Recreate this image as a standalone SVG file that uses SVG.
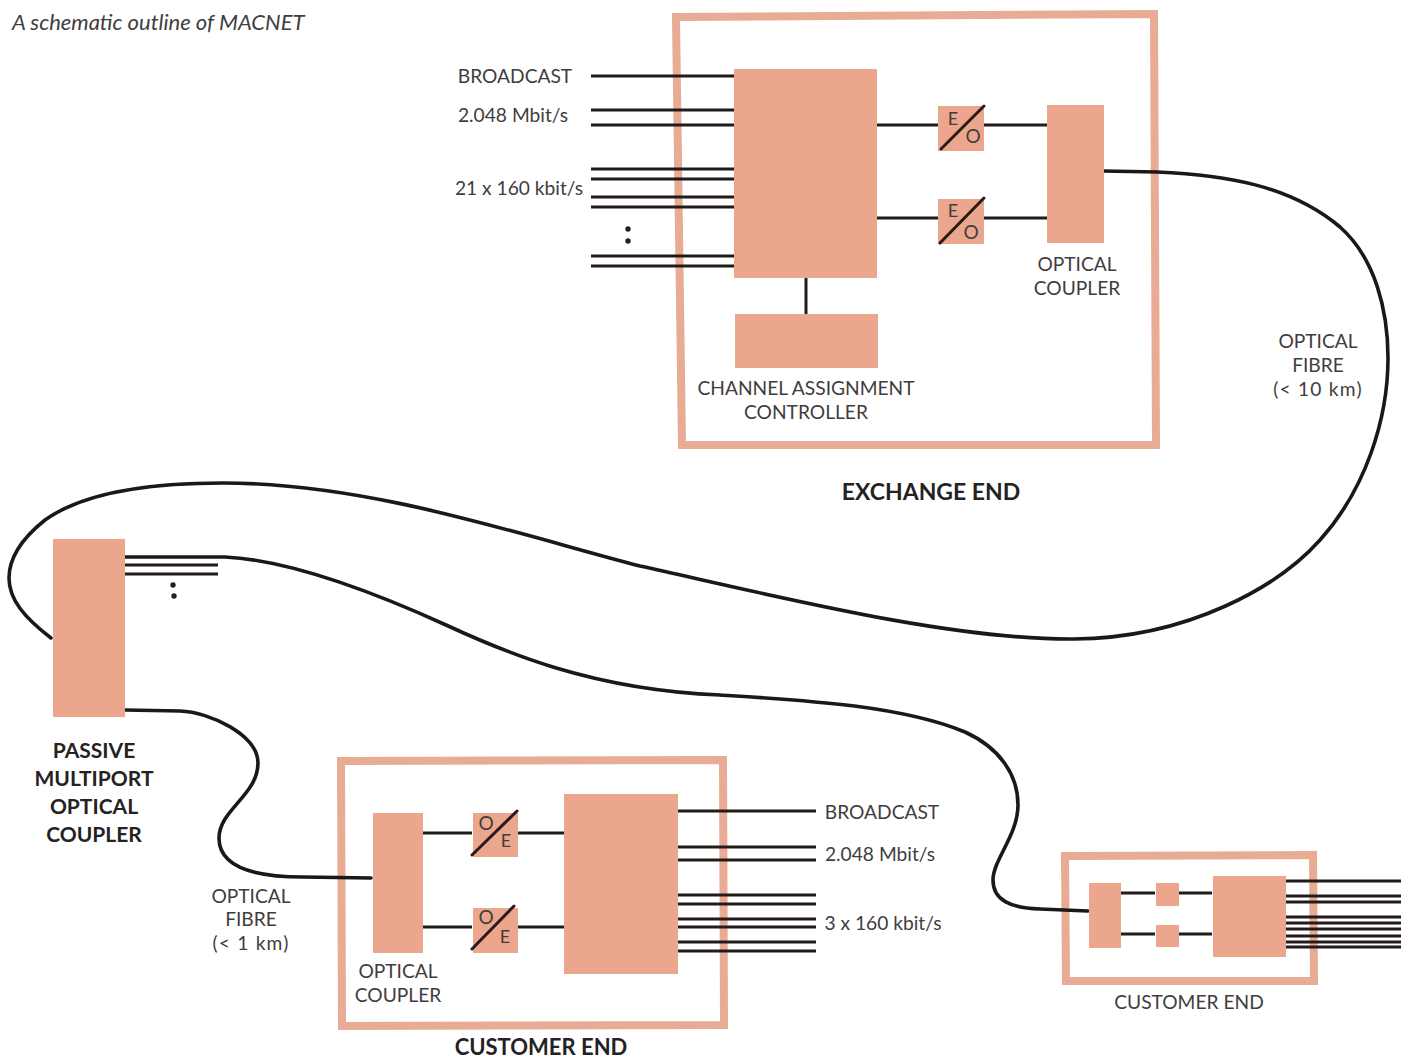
<svg xmlns="http://www.w3.org/2000/svg" width="1407" height="1059" viewBox="0 0 1407 1059">
<style>
.b{fill:#eca68d}
.fr{fill:none;stroke:#e8ab93;stroke-width:8}
.l{stroke:#231a1a;stroke-width:3;fill:none}
.t{stroke:#2a1a1a;stroke-width:3;fill:none;stroke-linecap:round}
.f{stroke:#1c1818;stroke-width:3.6;fill:none;stroke-linecap:round}
.d{fill:#231f20}
text{font-family:"Lato","Liberation Sans",sans-serif;font-size:19.2px;font-weight:400;fill:#3f3d3d;text-anchor:middle}
.s{text-anchor:start}
text.h{font-weight:700;font-size:23px;fill:#242222}
text.c{font-weight:700;font-size:22px;fill:#242222}
text.m{font-weight:700;font-size:21px;fill:#242222}
text.i{font-style:italic;text-anchor:start;font-size:22px}
text.eo{font-size:18px}
text.o{font-size:19px}
text.w{letter-spacing:1.2px}
</style>
<rect width="1407" height="1059" fill="#fff"/>
<text id="title" class="i" x="12" y="30">A schematic outline of MACNET</text>

<g id="exchange-frame"><polygon class="fr" points="676,17 1154,14 1156,445 682,445"/></g>
<g id="customer-frame"><polygon class="fr" points="341,761 723,760 724,1025 342,1026"/></g>
<g id="small-customer-frame"><polygon class="fr" points="1065,856 1313,855 1314,981 1066,981"/></g>

<g id="connectors">
<path class="f" d="M1103,171 L1157,172 C1225,175 1290,185 1340,227 C1375,258 1388,310 1388,358 C1388,420 1365,490 1320,540 C1280,585 1190,638 1074,639 C950,640 780,597 640,566 C520,535 370,483 223,483 C140,483 80,495 45,520 C20,540 9,560 9,578 C9,600 25,618 51,638"/>
<path class="f" d="M124,557 L225,557 C290,560 380,595 446,625 C500,650 590,690 720,695 C800,700 900,705 965,732 C1000,748 1018,775 1018,805 C1018,835 993,860 993,880 C993,900 1010,908 1040,909 L1088,911"/>
<path class="f" d="M125,710 L180,711 C210,712 258,735 258,763 C258,795 219,810 219,838 C219,868 255,877 303,877 L371,878"/>
<g class="l">
<path d="M591,76H734"/><path d="M591,110H734M591,125H734"/>
<path d="M591,169H734M591,179H734M591,197H734M591,207H734"/>
<path d="M591,256H734M591,266H734"/>
<path d="M876,125H938M983,125H1047M876,218H938M983,218H1047"/>
<path d="M806,278V314"/>
<path d="M124,565H218M124,574H218"/>
<path d="M422,833H472M518,833H564M422,927H472M518,927H564"/>
<path d="M677,811H816M677,847H816M677,860H816"/>
<path d="M677,895H816M677,904H816M677,919H816M677,927H816M677,942H816M677,951H816"/>
<path d="M1118,893H1155M1178,893H1212M1119,934H1155M1177,934H1212"/>
<path d="M1285,881H1401M1285,896H1401M1285,902H1401M1285,917H1401M1285,923H1401M1285,929H1401M1285,936H1401M1285,942H1401M1285,947H1401"/>
</g>
</g>

<g id="controller-main"><rect class="b" x="734" y="69" width="143" height="209"/></g>
<g id="channel-assignment-controller"><rect class="b" x="735" y="314" width="143" height="54"/>
<text x="806" y="395">CHANNEL ASSIGNMENT</text><text x="806" y="419">CONTROLLER</text></g>
<g id="eo-1"><rect class="b" x="938" y="106" width="46" height="45"/><text class="eo" x="953" y="125">E</text><text class="o" x="973" y="143">O</text><path class="t" d="M941,149L984,106"/></g>
<g id="eo-2"><rect class="b" x="938" y="199" width="46" height="45"/><text class="eo" x="953" y="217">E</text><text class="o" x="971" y="239">O</text><path class="t" d="M940,243L984,198"/></g>
<g id="optical-coupler-exchange"><rect class="b" x="1047" y="105" width="57" height="138"/>
<text x="1077" y="271">OPTICAL</text><text x="1077" y="295">COUPLER</text></g>

<g id="passive-coupler"><rect class="b" x="53" y="539" width="72" height="178"/>
<text class="m" x="94" y="758">PASSIVE</text><text class="m" x="94" y="786">MULTIPORT</text><text class="m" x="94" y="814">OPTICAL</text><text class="m" x="94" y="842">COUPLER</text></g>

<g id="optical-coupler-customer"><rect class="b" x="373" y="813" width="50" height="140"/>
<text x="398" y="978">OPTICAL</text><text x="398" y="1002">COUPLER</text></g>
<g id="oe-1"><rect class="b" x="473" y="813" width="45" height="44"/><text class="o" x="486" y="830">O</text><text class="eo" x="506" y="847">E</text><path class="t" d="M472,855L517,811"/></g>
<g id="oe-2"><rect class="b" x="473" y="908" width="45" height="45"/><text class="o" x="486" y="924">O</text><text class="eo" x="505" y="943">E</text><path class="t" d="M472,949L514,906"/></g>
<g id="customer-main"><rect class="b" x="564" y="794" width="114" height="180"/></g>

<g id="small-coupler"><rect class="b" x="1089" y="883" width="32" height="65"/></g>
<g id="small-conv-1"><rect class="b" x="1156" y="883" width="23" height="23"/></g>
<g id="small-conv-2"><rect class="b" x="1156" y="925" width="23" height="22"/></g>
<g id="small-main"><rect class="b" x="1213" y="876" width="73" height="81"/></g>

<g id="labels">
<text x="515" y="83">BROADCAST</text>
<text x="513" y="122">2.048 Mbit/s</text>
<text x="519" y="195">21 x 160 kbit/s</text>
<circle class="d" cx="628" cy="229" r="2.7"/><circle class="d" cx="628" cy="241" r="2.7"/>
<circle class="d" cx="173" cy="585" r="2.7"/><circle class="d" cx="174" cy="596" r="2.7"/>
<text x="1318" y="348">OPTICAL</text><text x="1318" y="372">FIBRE</text><text class="w" x="1318" y="396">(&lt; 10 km)</text>
<text class="h" x="931" y="500">EXCHANGE END</text>
<text x="251" y="903">OPTICAL</text><text x="251" y="926">FIBRE</text><text class="w" x="251" y="950">(&lt; 1 km)</text>
<text x="882" y="819">BROADCAST</text>
<text x="880" y="861">2.048 Mbit/s</text>
<text x="883" y="930">3 x 160 kbit/s</text>
<text class="c" x="541" y="1055">CUSTOMER END</text>
<text x="1189" y="1009">CUSTOMER END</text>
</g>
</svg>
